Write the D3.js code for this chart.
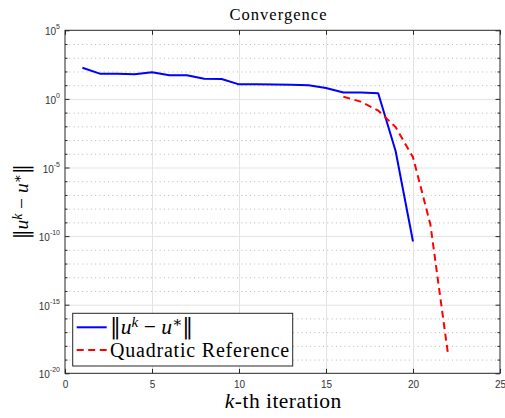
<!DOCTYPE html>
<html><head><meta charset="utf-8">
<script src="https://cdn.jsdelivr.net/npm/d3@7"></script>
<style>body{margin:0;background:#fff} svg{display:block}</style>
</head><body>
<svg id="c" width="505" height="418"></svg>
<script>
// ---- data ----
const iterations = [1,2,3,4,5,6,7,8,9,10,11,12,13,14,15,16,17,18,19,20];
const errorNorm = [186, 69, 68, 62, 87, 52, 52, 29.5, 28, 11.5, 11.5, 11.4, 10.7, 9.8, 6.2, 2.95, 2.9, 2.6, 1.6e-4, 4e-11];
const refIterations = [16,17,18,19,20,21,22];
const refValues = [1.45, 0.63, 0.14, 8.9e-3, 5.6e-5, 7e-10, 3.2e-19];
const xTicks = [0,5,10,15,20,25];
const yExponents = [5,0,-5,-10,-15,-20];
const minorExponents = [4,3,2,1,-1,-2,-3,-4,-6,-7,-8,-9,-11,-12,-13,-14,-16,-17,-18,-19];
const titleText = "Convergence";
const xLabelParts = ["k", "-th iteration"];
const legendNames = ["error", "Quadratic Reference"];

// ---- layout ----
const W = 505, H = 418;
const L = 65, R = 500, T = 30.3, B = 373.3;
const x = d3.scaleLinear().domain([0,25]).range([L,R]);
const y = d3.scaleLog().domain([1e-20,1e5]).range([B,T]);
const svg = d3.select("#c");
svg.append("rect").attr("width",W).attr("height",H).attr("fill","#fff");

const axisCol = "#262626", labCol = "#333";
const serif = "'Liberation Serif', 'DejaVu Serif', serif";
const barFont = "'DejaVu Serif', serif";
const sans = "'Liberation Sans', Arial, Helvetica, sans-serif";

// ---- grid ----
const minorVals = minorExponents.map(e => Math.pow(10, e));
const majorVals = yExponents.filter(e => e < 5 && e > -20).map(e => Math.pow(10, e));

const gMinor = svg.append("g").attr("transform", `translate(${L},0)`)
  .call(d3.axisLeft(y).tickValues(minorVals).tickSize(-(R-L)).tickFormat(""));
gMinor.select(".domain").remove();
gMinor.selectAll("line").attr("stroke","#b8b8b8").attr("stroke-width",1).attr("stroke-dasharray","1,3.3");

const gMajor = svg.append("g").attr("transform", `translate(${L},0)`)
  .call(d3.axisLeft(y).tickValues(majorVals).tickSize(-(R-L)).tickFormat(""));
gMajor.select(".domain").remove();
gMajor.selectAll("line").attr("stroke","#e3e3e3").attr("stroke-width",1);

const gVx = svg.append("g").attr("transform", `translate(0,${B})`)
  .call(d3.axisBottom(x).tickValues(xTicks.filter(v => v > 0 && v < 25)).tickSize(-(B-T)).tickFormat(""));
gVx.select(".domain").remove();
gVx.selectAll("line").attr("stroke","#e3e3e3").attr("stroke-width",1);

// ---- series ----
const line = d3.line().x(d => x(d[0])).y(d => y(d[1]));
svg.append("path").datum(iterations.map((k,i) => [k, errorNorm[i]]))
  .attr("d", line).attr("fill","none").attr("stroke","#0000ff").attr("stroke-width",2)
  .attr("stroke-linejoin","round");
svg.append("path").datum(refIterations.map((k,i) => [k, refValues[i]]))
  .attr("d", line).attr("fill","none").attr("stroke","#ff0000").attr("stroke-width",2)
  .attr("stroke-dasharray","7,4.5");

// ---- axes ----
function styleAxis(g){
  g.select(".domain").remove();
  g.selectAll("line").attr("stroke",axisCol).attr("stroke-width",1);
  g.selectAll("text").attr("fill",labCol).attr("font-family",sans).attr("font-size",10);
}
const gx = svg.append("g").attr("transform", `translate(0,${B})`)
  .call(d3.axisBottom(x).tickValues(xTicks).tickSizeInner(-4.5).tickSizeOuter(0).tickPadding(8).tickFormat(d3.format("d")));
styleAxis(gx);
const gxt = svg.append("g").attr("transform", `translate(0,${T})`)
  .call(d3.axisTop(x).tickValues(xTicks).tickSizeInner(-4.5).tickSizeOuter(0).tickFormat(""));
styleAxis(gxt);

const majorAll = yExponents.map(e => Math.pow(10, e));
const gy = svg.append("g").attr("transform", `translate(${L},0)`)
  .call(d3.axisLeft(y).tickValues(majorAll).tickSizeInner(-4.5).tickSizeOuter(0).tickPadding(5).tickFormat(""));
styleAxis(gy);
gy.selectAll(".tick text").each(function(d){
  const e = Math.round(Math.log10(d));
  const t = d3.select(this).attr("dy", null).attr("y", 4.5).text("");
  t.append("tspan").text("10");
  t.append("tspan").attr("dy", -6).attr("font-size", 7).text(String(e));
});
const gym = svg.append("g").attr("transform", `translate(${L},0)`)
  .call(d3.axisLeft(y).tickValues(minorVals).tickSizeInner(-2.5).tickSizeOuter(0).tickFormat(""));
styleAxis(gym);
const gyr = svg.append("g").attr("transform", `translate(${R},0)`)
  .call(d3.axisRight(y).tickValues(majorAll).tickSizeInner(-4.5).tickSizeOuter(0).tickFormat(""));
styleAxis(gyr);
const gyrm = svg.append("g").attr("transform", `translate(${R},0)`)
  .call(d3.axisRight(y).tickValues(minorVals).tickSizeInner(-2.5).tickSizeOuter(0).tickFormat(""));
styleAxis(gyrm);

svg.append("rect").attr("x",L).attr("y",T).attr("width",R-L).attr("height",B-T)
  .attr("fill","none").attr("stroke",axisCol).attr("stroke-width",1);

// ---- text helpers ----
function fitSpacing(sel, target){
  const w = sel.node().getComputedTextLength();
  const n = sel.text().length;
  sel.attr("letter-spacing", (target - w) / n);
}
function fitWidth(sel, target){
  const w = sel.node().getComputedTextLength();
  const fs = parseFloat(sel.attr("font-size"));
  sel.attr("font-size", fs * target / w);
}
function normLabel(t){
  t.append("tspan").attr("font-family",barFont).attr("font-weight","normal").text("\u2016");
  t.append("tspan").attr("font-style","italic").text("u");
  t.append("tspan").attr("font-style","italic").attr("font-size","70%").attr("dy","-0.45em").text("k");
  t.append("tspan").attr("dy","0.315em").text(" \u2212 ");
  t.append("tspan").attr("font-style","italic").text("u");
  t.append("tspan").attr("font-size","70%").attr("dy","-0.45em").text("\u2217");
  t.append("tspan").attr("dy","0.315em").attr("font-family",barFont).attr("font-weight","normal").text("\u2016");
}

// title
const title = svg.append("text").attr("x",278.5).attr("y",20).attr("text-anchor","middle")
  .attr("font-family",serif).attr("font-size",16.5).attr("fill","#000").text(titleText);
fitSpacing(title, 98);

// x label
const xl = svg.append("text").attr("x",283.3).attr("y",408).attr("text-anchor","middle")
  .attr("font-family",serif).attr("font-size",21.5).attr("fill","#000");
xl.append("tspan").attr("font-style","italic").text(xLabelParts[0]);
xl.append("tspan").text(xLabelParts[1]);
fitSpacing(xl, 117);

// y label
const yl = svg.append("text").attr("transform","translate(28,201.8) rotate(-90)")
  .attr("text-anchor","middle").attr("font-family",serif).attr("font-size",20).attr("fill","#000");
normLabel(yl);
fitWidth(yl, 75);

// ---- legend ----
const lg = svg.append("g");
lg.append("rect").attr("x",72.7).attr("y",313.3).attr("width",220).attr("height",52.7)
  .attr("fill","#fff").attr("stroke",axisCol).attr("stroke-width",1);
const rows = [
  {y:327.3, color:"#0000ff", dash:null},
  {y:350, color:"#ff0000", dash:"7,4.5"}
];
rows.forEach((r,i) => {
  const ln = lg.append("line").attr("x1",76.7).attr("x2",106.7).attr("y1",r.y).attr("y2",r.y)
    .attr("stroke",r.color).attr("stroke-width",2);
  if (r.dash) ln.attr("stroke-dasharray", r.dash);
  const t = lg.append("text").attr("x",110).attr("y",r.y + 6.5)
    .attr("font-family",serif).attr("font-size",20).attr("fill","#000");
  if (i === 0) { normLabel(t); fitWidth(t, 83); }
  else { t.text(legendNames[1]); fitSpacing(t, 180); }
});
</script>
</body></html>
